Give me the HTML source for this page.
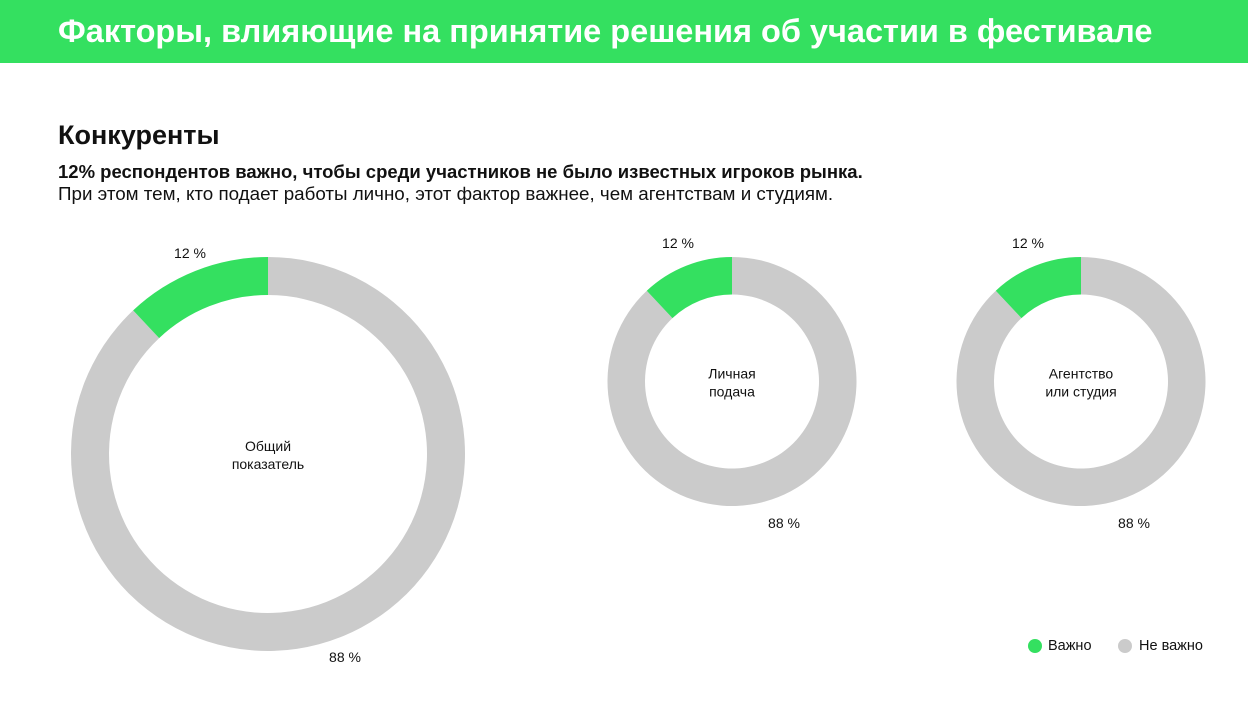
<!DOCTYPE html>
<html><head><meta charset="utf-8"><style>
body{margin:0;width:1248px;height:706px;overflow:hidden;background:#fff;font-family:"Liberation Sans",sans-serif;position:relative}
.hdr{position:absolute;left:0;top:0;width:1248px;height:63px;background:#34e060}
.hdr h1{margin:0;position:absolute;left:58px;top:13px;color:#fff;font-size:32.5px;font-weight:bold;white-space:nowrap}
.t{position:absolute;color:#111;white-space:nowrap}
</style></head><body>
<div class="hdr"><h1>Факторы, влияющие на принятие решения об участии в фестивале</h1></div>
<div class="t" style="left:58px;top:120px;font-size:27px;font-weight:bold">Конкуренты</div>
<div class="t" style="left:58px;top:161px;font-size:18.5px;font-weight:bold">12% респондентов важно, чтобы среди участников не было известных игроков рынка.</div>
<div class="t" style="left:58px;top:183px;font-size:18.8px">При этом тем, кто подает работы лично, этот фактор важнее, чем агентствам и студиям.</div>
<svg id="c" width="1248" height="706" style="position:absolute;left:0;top:0"></svg>
<script>
const categories=["Общий|показатель","Личная|подача","Агентство|или студия"];
const important=[12,12,12];
const notImportant=[88,88,88];
const geom=[[268,454,197,159,190,253,345,657],[732,381.5,124.5,87,678,243,784,523],[1081,381.5,124.5,87,1028,243,1134,523]];
const svg=document.getElementById('c');
const NS='http://www.w3.org/2000/svg';
function arc(cx,cy,R,r,a0,a1){
 const p=(rad,a)=>[cx+rad*Math.sin(a),cy-rad*Math.cos(a)];
 const large=(a1-a0)>Math.PI?1:0;
 const [x1,y1]=p(R,a0),[x2,y2]=p(R,a1),[x3,y3]=p(r,a1),[x4,y4]=p(r,a0);
 return `M${x1} ${y1}A${R} ${R} 0 ${large} 1 ${x2} ${y2}L${x3} ${y3}A${r} ${r} 0 ${large} 0 ${x4} ${y4}Z`;
}
function txt(x,y,s,size,name){const t=document.createElementNS(NS,'text');t.setAttribute('x',x);t.setAttribute('y',y);t.setAttribute('text-anchor','middle');t.setAttribute('font-size',size);t.setAttribute('fill','#111');t.textContent=s;


svg.appendChild(t);}
categories.forEach((c,i)=>{
 const [cx,cy,R,r,lx,ly,mx,my]=geom[i];
 const tot=important[i]+notImportant[i];
 const a=important[i]/tot*2*Math.PI;
 const g=document.createElementNS(NS,'path');g.setAttribute('d',arc(cx,cy,R,r,0,2*Math.PI-a));g.setAttribute('fill','#cbcbcb');
 
 
 svg.appendChild(g);
 const s=document.createElementNS(NS,'path');s.setAttribute('d',arc(cx,cy,R,r,2*Math.PI-a,2*Math.PI));s.setAttribute('fill','#34e060');
 
 
 svg.appendChild(s);
 txt(lx,ly+5,important[i]+' %',14,'label-important');
 txt(mx,my+5,notImportant[i]+' %',14,'label-not-important');
 const parts=c.split('|');
 txt(cx,cy-3,parts[0],14,'donut-center-label');
 txt(cx,cy+15,parts[1],14,'donut-center-label');
});
</script>
<div style="position:absolute;left:1028px;top:639px;width:14px;height:14px;border-radius:50%;background:#34e060"></div>
<div class="t" style="left:1048px;top:638px;font-size:14.5px">Важно</div>
<div style="position:absolute;left:1118px;top:639px;width:14px;height:14px;border-radius:50%;background:#cbcbcb"></div>
<div class="t" style="left:1139px;top:638px;font-size:14.5px">Не важно</div>
</body></html>
